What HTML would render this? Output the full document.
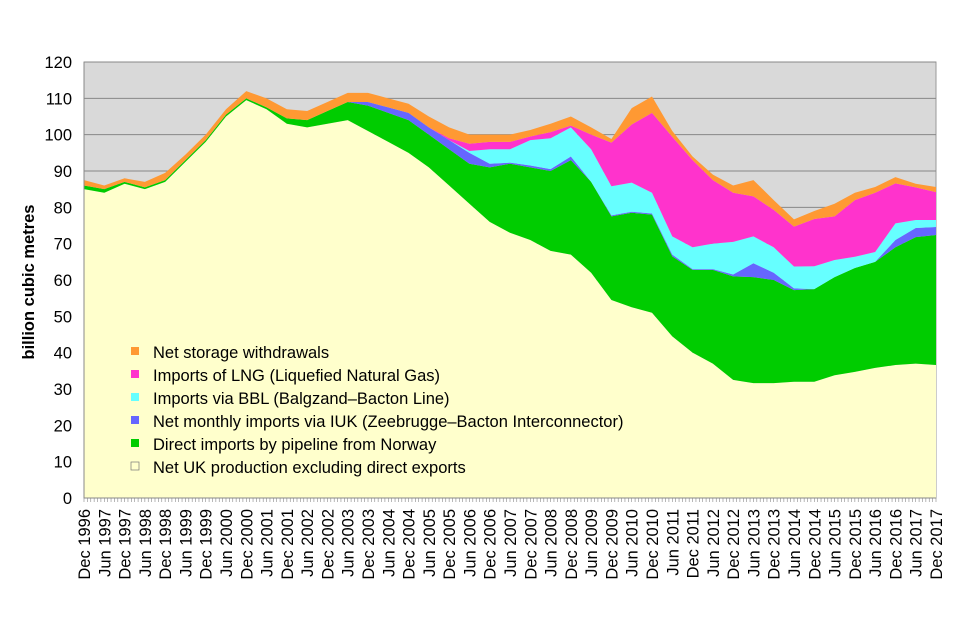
<!DOCTYPE html>
<html><head><meta charset="utf-8"><style>
body{margin:0;background:#fff;}
svg{display:block;font-family:"Liberation Sans",Arial,sans-serif;}
</style></head><body>
<svg id="c" width="960" height="640"></svg>
<script>
const labels=[];for(let y=1996;y<=2017;y++){if(y>1996)labels.push('Jun '+y);labels.push('Dec '+y);}
const production=[85,84,86.5,85,87,92.5,98,105,109.5,107,103,102,103,104,101,98,95,91,86,81,76,73,71,68,67,62,54.5,52.5,51,44.5,40,37,32.5,31.6,31.6,32,32,33.8,34.7,35.8,36.6,37,36.6];
const norway=[1,1,0.5,0.5,0.5,0.5,0.5,0.5,0.5,0.5,1.5,2,3.5,5,7,8,9,9,10,11,15,19,20,22,26,25,23,26,27,22,22.8,25.8,28.5,29.2,28.4,25.2,25.5,27,28.6,29.2,32.4,34.8,35.8];
const iuk=[0,0,0,0,0,0,0,0,0,0,0,0,0,0,1,1.5,2,2,2.5,3,1,0.3,0.5,0.5,1,0,0.3,0.3,0.3,0.5,0.2,0.2,0.5,3.8,2,0.5,0,0,0,0,2,2.5,2.2];
const bbl=[0,0,0,0,0,0,0,0,0,0,0,0,0,0,0,0,0,0,0,0.5,4,3.7,7,8.5,8,9,8,8,5.7,5,6,7,9,7.4,7,6,6.3,4.7,3.1,2.7,4.6,2.2,1.9];
const lng=[0,0,0,0,0,0,0,0,0,0,0,0,0,0,0,0,0,0,0.5,2,2,2,1,1.7,0.5,4,12,16,22,27.4,24,17.5,13.5,11,10.3,11,13,12,15.6,16.3,11,9,7.7];
const storage=[1.5,1,1,1.5,2,1.5,1.5,1.5,2,2.5,2.5,2.5,2.5,2.5,2.5,2.5,2.5,3,3,2.5,2,2,1.8,2.3,2.5,2,1,4.5,4.5,1.6,1,1.5,2,4.5,2.7,2,2.2,3.5,2,1.6,1.7,1,1.4];
const yTicks=[0,10,20,30,40,50,60,70,80,90,100,110,120];
const series=[
 {name:'production',vals:production,color:'#ffffcc'},
 {name:'norway',vals:norway,color:'#00cc00'},
 {name:'iuk',vals:iuk,color:'#6666ff'},
 {name:'bbl',vals:bbl,color:'#66ffff'},
 {name:'lng',vals:lng,color:'#ff33cc'},
 {name:'storage',vals:storage,color:'#ff9933'}];
const legendItems=[['Net storage withdrawals','#ff9933'],['Imports of LNG (Liquefied Natural Gas)','#ff33cc'],['Imports via BBL (Balgzand\u2013Bacton Line)','#66ffff'],['Net monthly imports via IUK (Zeebrugge\u2013Bacton Interconnector)','#6666ff'],['Direct imports by pipeline from Norway','#00cc00'],['Net UK production excluding direct exports','#ffffcc']];
const L=84,R=936,T=62,B=498;
const x=i=>L+i*(R-L)/(labels.length-1);
const y=v=>B-v*(B-T)/120;
const NS='http://www.w3.org/2000/svg',svg=document.getElementById('c');
function mk(t,a,p){const e=document.createElementNS(NS,t);for(const k in a)e.setAttribute(k,a[k]);(p||svg).appendChild(e);return e;}
const bg=mk('rect',{x:L,y:T,width:R-L,height:B-T,fill:'#d9d9d9',stroke:'#999'});


yTicks.forEach(t=>{
 const g=mk('line',{x1:L,x2:R,y1:y(t),y2:y(t),stroke:'#888','stroke-width':1});
 
 
 const tx=mk('text',{x:72,y:y(t)+6,'text-anchor':'end','font-size':16.5,fill:'#000'});tx.textContent=t;
 
 
});
let base=production.map(()=>0);
series.forEach(s=>{
 const top=base.map((b,i)=>b+s.vals[i]);
 let d='M'+x(0)+','+y(top[0]);
 for(let i=1;i<top.length;i++)d+='L'+x(i)+','+y(top[i]);
 for(let i=top.length-1;i>=0;i--)d+='L'+x(i)+','+y(base[i]);
 const p=mk('path',{d:d+'Z',fill:s.color,stroke:'none'});
 
 
 base=top;
});
mk('line',{x1:L,x2:L,y1:T,y2:B,stroke:'#888'});
mk('line',{x1:L,x2:R,y1:B,y2:B,stroke:'#888'});
for(let m=0;m<=252;m++){const xx=L+m*(R-L)/252;mk('line',{x1:xx,x2:xx,y1:B,y2:B+4,stroke:'#888','stroke-width':0.6});}
labels.forEach((l,i)=>{
 const t=mk('text',{transform:`translate(${x(i)+6},509) rotate(-90)`,'text-anchor':'end','font-size':16.5,fill:'#000'});t.textContent=l;
 
 
});
const yt=mk('text',{transform:'translate(34,282) rotate(-90)','text-anchor':'middle','font-size':16.5,'font-weight':'bold'});yt.textContent='billion cubic metres';


legendItems.forEach((it,i)=>{
 const yy=352+i*23;
 const r=mk('rect',{x:131,y:yy-5,width:8,height:8,fill:it[1],stroke:i==5?'#777':'none','stroke-width':0.7});
 
 
 const t=mk('text',{x:153,y:yy+6,'font-size':16.5,fill:'#000'});t.textContent=it[0];
 
 
});
</script>
</body></html>
